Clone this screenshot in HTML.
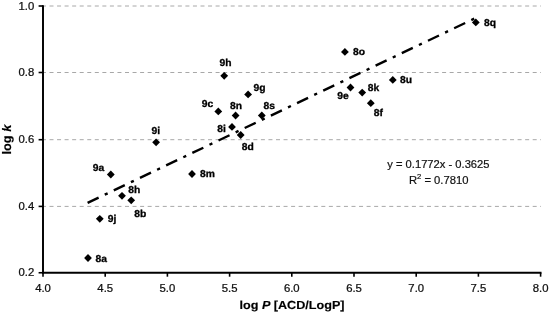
<!DOCTYPE html>
<html><head><meta charset="utf-8"><title>chart</title>
<style>
html,body{margin:0;padding:0;background:#fff;}
svg{display:block;will-change:transform;}
text{font-family:"Liberation Sans",sans-serif;}
.t{font-size:10.3px;fill:#111;stroke:#111;stroke-width:0.25px;}
.l{text-rendering:geometricPrecision;font-size:10px;font-weight:bold;fill:#000;stroke:#000;stroke-width:0.3px;}
.a{text-rendering:geometricPrecision;font-size:12.4px;font-weight:bold;fill:#000;stroke:#000;stroke-width:0.15px;}
.e{font-size:11px;fill:#111;stroke:#111;stroke-width:0.2px;}
</style></head><body>
<svg width="550" height="316" viewBox="0 0 550 316">
<rect width="550" height="316" fill="#fff"/>
<line x1="41.95" y1="206.40" x2="541" y2="206.40" stroke="#a8a8a8" stroke-width="1" stroke-dasharray="4 3.55"/>
<line x1="41.95" y1="139.70" x2="541" y2="139.70" stroke="#a8a8a8" stroke-width="1" stroke-dasharray="4 3.55"/>
<line x1="41.95" y1="72.50" x2="541" y2="72.50" stroke="#a8a8a8" stroke-width="1" stroke-dasharray="4 3.55"/>
<line x1="41.95" y1="6.00" x2="541" y2="6.00" stroke="#a8a8a8" stroke-width="1" stroke-dasharray="4 3.55"/>
<line x1="87.6" y1="202.84" x2="475.5" y2="18.08" stroke="#000" stroke-width="2.4" stroke-dasharray="12.2 6.8 3.2 6.8"/>
<line x1="43.0" y1="5.2" x2="43.0" y2="273.7" stroke="#000" stroke-width="1.95"/>
<line x1="42.0" y1="272.75" x2="541.5" y2="272.75" stroke="#000" stroke-width="1.9"/>
<line x1="43.00" y1="272.75" x2="43.00" y2="276.7" stroke="#000" stroke-width="1.6"/>
<text class="t" transform="translate(43.00 292.1) scale(1.1 1)" text-anchor="middle">4.0</text>
<line x1="105.20" y1="272.75" x2="105.20" y2="276.7" stroke="#000" stroke-width="1.6"/>
<text class="t" transform="translate(105.20 292.1) scale(1.1 1)" text-anchor="middle">4.5</text>
<line x1="167.40" y1="272.75" x2="167.40" y2="276.7" stroke="#000" stroke-width="1.6"/>
<text class="t" transform="translate(167.40 292.1) scale(1.1 1)" text-anchor="middle">5.0</text>
<line x1="229.60" y1="272.75" x2="229.60" y2="276.7" stroke="#000" stroke-width="1.6"/>
<text class="t" transform="translate(229.60 292.1) scale(1.1 1)" text-anchor="middle">5.5</text>
<line x1="291.80" y1="272.75" x2="291.80" y2="276.7" stroke="#000" stroke-width="1.6"/>
<text class="t" transform="translate(291.80 292.1) scale(1.1 1)" text-anchor="middle">6.0</text>
<line x1="354.00" y1="272.75" x2="354.00" y2="276.7" stroke="#000" stroke-width="1.6"/>
<text class="t" transform="translate(354.00 292.1) scale(1.1 1)" text-anchor="middle">6.5</text>
<line x1="416.20" y1="272.75" x2="416.20" y2="276.7" stroke="#000" stroke-width="1.6"/>
<text class="t" transform="translate(416.20 292.1) scale(1.1 1)" text-anchor="middle">7.0</text>
<line x1="478.40" y1="272.75" x2="478.40" y2="276.7" stroke="#000" stroke-width="1.6"/>
<text class="t" transform="translate(478.40 292.1) scale(1.1 1)" text-anchor="middle">7.5</text>
<line x1="540.60" y1="272.75" x2="540.60" y2="276.7" stroke="#000" stroke-width="1.6"/>
<text class="t" transform="translate(540.60 292.1) scale(1.1 1)" text-anchor="middle">8.0</text>
<line x1="38.6" y1="272.75" x2="43.0" y2="272.75" stroke="#000" stroke-width="1.6"/>
<text class="t" transform="translate(34.3 276.05) scale(1.1 1)" text-anchor="end">0.2</text>
<line x1="38.6" y1="206.40" x2="43.0" y2="206.40" stroke="#000" stroke-width="1.6"/>
<text class="t" transform="translate(34.3 209.70) scale(1.1 1)" text-anchor="end">0.4</text>
<line x1="38.6" y1="139.70" x2="43.0" y2="139.70" stroke="#000" stroke-width="1.6"/>
<text class="t" transform="translate(34.3 143.00) scale(1.1 1)" text-anchor="end">0.6</text>
<line x1="38.6" y1="72.50" x2="43.0" y2="72.50" stroke="#000" stroke-width="1.6"/>
<text class="t" transform="translate(34.3 75.80) scale(1.1 1)" text-anchor="end">0.8</text>
<line x1="38.6" y1="6.00" x2="43.0" y2="6.00" stroke="#000" stroke-width="1.6"/>
<text class="t" transform="translate(34.3 9.60) scale(1.1 1)" text-anchor="end">1.0</text>
<path d="M84.10 258.00L88.00 254.10L91.90 258.00L88.00 261.90Z" fill="#000"/>
<path d="M95.90 218.80L99.80 214.90L103.70 218.80L99.80 222.70Z" fill="#000"/>
<path d="M106.90 174.50L110.80 170.60L114.70 174.50L110.80 178.40Z" fill="#000"/>
<path d="M118.10 195.80L122.00 191.90L125.90 195.80L122.00 199.70Z" fill="#000"/>
<path d="M127.30 200.30L131.20 196.40L135.10 200.30L131.20 204.20Z" fill="#000"/>
<path d="M152.20 142.30L156.10 138.40L160.00 142.30L156.10 146.20Z" fill="#000"/>
<path d="M188.10 174.00L192.00 170.10L195.90 174.00L192.00 177.90Z" fill="#000"/>
<path d="M214.40 111.40L218.30 107.50L222.20 111.40L218.30 115.30Z" fill="#000"/>
<path d="M220.30 75.80L224.20 71.90L228.10 75.80L224.20 79.70Z" fill="#000"/>
<path d="M228.10 126.90L232.00 123.00L235.90 126.90L232.00 130.80Z" fill="#000"/>
<path d="M231.70 115.50L235.60 111.60L239.50 115.50L235.60 119.40Z" fill="#000"/>
<path d="M236.80 135.00L240.70 131.10L244.60 135.00L240.70 138.90Z" fill="#000"/>
<path d="M244.20 94.40L248.10 90.50L252.00 94.40L248.10 98.30Z" fill="#000"/>
<path d="M257.90 115.50L261.80 111.60L265.70 115.50L261.80 119.40Z" fill="#000"/>
<path d="M341.00 51.90L344.90 48.00L348.80 51.90L344.90 55.80Z" fill="#000"/>
<path d="M346.60 87.50L350.50 83.60L354.40 87.50L350.50 91.40Z" fill="#000"/>
<path d="M358.30 92.60L362.20 88.70L366.10 92.60L362.20 96.50Z" fill="#000"/>
<path d="M366.90 103.20L370.80 99.30L374.70 103.20L370.80 107.10Z" fill="#000"/>
<path d="M388.90 79.90L392.80 76.00L396.70 79.90L392.80 83.80Z" fill="#000"/>
<path d="M471.90 22.40L475.80 18.50L479.70 22.40L475.80 26.30Z" fill="#000"/>
<text class="l" transform="translate(95.6 261.6) scale(1.03 1)">8a</text>
<text class="l" transform="translate(107.8 222.4) scale(1.03 1)">9j</text>
<text class="l" transform="translate(92.7 171.3) scale(1.03 1)">9a</text>
<text class="l" transform="translate(128.3 192.5) scale(1.03 1)">8h</text>
<text class="l" transform="translate(134.2 216.7) scale(1.03 1)">8b</text>
<text class="l" transform="translate(151.6 133.8) scale(1.03 1)">9i</text>
<text class="l" transform="translate(200 176.9) scale(1.03 1)">8m</text>
<text class="l" transform="translate(201.7 107) scale(1.03 1)">9c</text>
<text class="l" transform="translate(219.4 65.6) scale(1.03 1)">9h</text>
<text class="l" transform="translate(217.3 131.6) scale(1.03 1)">8i</text>
<text class="l" transform="translate(230 108.9) scale(1.03 1)">8n</text>
<text class="l" transform="translate(241.7 149.7) scale(1.03 1)">8d</text>
<text class="l" transform="translate(253.5 90.5) scale(1.03 1)">9g</text>
<text class="l" transform="translate(263.6 109) scale(1.03 1)">8s</text>
<text class="l" transform="translate(353 55.4) scale(1.03 1)">8o</text>
<text class="l" transform="translate(337.2 99.3) scale(1.03 1)">9e</text>
<text class="l" transform="translate(367.8 90.6) scale(1.03 1)">8k</text>
<text class="l" transform="translate(373.8 115.6) scale(1.03 1)">8f</text>
<text class="l" transform="translate(400 83) scale(1.03 1)">8u</text>
<text class="l" transform="translate(484 25.8) scale(1.03 1)">8q</text>
<text class="e" transform="translate(438.4 167.6) scale(1.018 1)" text-anchor="middle">y = 0.1772x - 0.3625</text>
<text class="e" transform="translate(438.7 184.2) scale(1.022 1)" text-anchor="middle">R<tspan font-size="7.5px" dy="-4.8">2</tspan><tspan dy="4.8"> = 0.7810</tspan></text>
<text class="a" style="font-size:11.7px" transform="translate(292 309) scale(1.078 1)" text-anchor="middle">log <tspan font-style="italic">P</tspan> [ACD/LogP]</text>
<text class="a" transform="translate(11.3 139.6) rotate(-90) scale(1.03 1)" text-anchor="middle">log <tspan font-style="italic">k</tspan></text>
</svg></body></html>
